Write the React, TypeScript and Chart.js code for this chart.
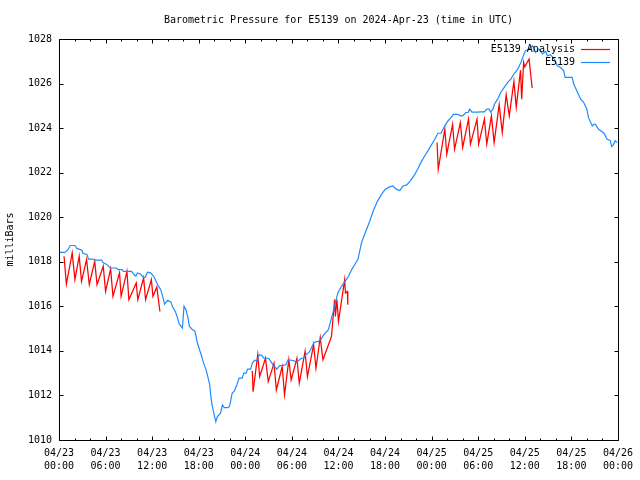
import { useEffect, useRef } from "react";
import { Chart, registerables } from "chart.js";

Chart.register(...registerables);

const TITLE = "Barometric Pressure for E5139 on 2024-Apr-23 (time in UTC)";
const Y_LABEL = "milliBars";
const SERIES_ANALYSIS = "E5139 Analysis";
const SERIES_OBS = "E5139";
const COLOR_ANALYSIS = "#ff0000";
const COLOR_OBS = "#1e8cff";
const FONT = "'DejaVu Sans Mono', 'Liberation Mono', monospace";

// hours since 2024-04-23 00:00 UTC
const X_MIN = 0;
const X_MAX = 72;
const X_STEP = 6;
const X_MINOR_STEP = 2;
const X_TICK_DATES = ["04/23", "04/23", "04/23", "04/23", "04/24", "04/24", "04/24", "04/24", "04/25", "04/25", "04/25", "04/25", "04/26"];
const X_TICK_TIMES = ["00:00", "06:00", "12:00", "18:00", "00:00", "06:00", "12:00", "18:00", "00:00", "06:00", "12:00", "18:00", "00:00"];
const Y_MIN = 1010;
const Y_MAX = 1028;
const Y_STEP = 2;

// Observed pressure (E5139)
const OBS_HOURS = [
  0, 0.75, 1.1, 1.45, 2.05, 2.3, 2.95, 3.1, 3.6, 3.8, 4.35, 4.6, 5.5, 5.7, 6.15, 6.6, 7.4, 7.6, 8.1, 8.3,
  9.35, 9.6, 9.9, 10.1, 10.5, 10.9, 11.1, 11.4, 11.8, 12.2, 12.4, 12.7, 13.1, 13.35, 13.6, 14.0, 14.4, 14.6, 15.0, 15.2,
  15.5, 15.9, 16.1, 16.35, 16.6, 16.8, 17.2, 17.5, 17.8, 18.1, 18.3, 18.5, 18.7, 18.95, 19.2, 19.4, 19.55, 19.7, 19.95, 20.2,
  20.4, 20.8, 21.05, 21.3, 21.7, 21.95, 22.1, 22.3, 22.6, 22.9, 23.2, 23.6, 23.8, 24.1, 24.3, 24.7, 24.9, 25.2, 25.5, 25.8,
  26.1, 26.4, 27.0, 27.3, 27.6, 27.9, 28.05, 28.4, 29.2, 29.5, 30.2, 30.5, 30.9, 31.2, 31.5, 31.8, 32.2, 32.4, 32.8, 33.1,
  33.4, 33.7, 34.1, 34.7, 35.1, 35.4, 35.6, 35.8, 36.0, 36.4, 36.85, 37.3, 37.7, 38.1, 38.5, 39.0, 39.5, 40.0, 40.5, 41.0,
  41.5, 42.0, 42.5, 43.0, 43.5, 43.9, 44.3, 44.8, 45.3, 45.8, 46.2, 46.6, 47.1, 47.5, 47.9, 48.4, 48.8, 49.2, 49.7, 50.1,
  50.5, 50.8, 51.4, 51.7, 52.0, 52.4, 52.7, 52.9, 53.2, 53.9, 54.3, 54.8, 55.1, 55.4, 55.6, 55.9, 56.1, 56.5, 56.9, 57.35,
  57.8, 58.2, 58.6, 59.1, 59.5, 59.9, 60.1, 60.55, 61.0, 61.4, 61.8, 62.3, 62.7, 62.9, 63.3, 63.8, 64.2, 64.6, 65.0, 65.2,
  66.1, 66.3, 66.7, 67.2, 67.6, 68.0, 68.2, 68.7, 68.9, 69.1, 69.5, 69.7, 70.2, 70.6, 71.0, 71.2, 71.4, 71.65, 71.9,
];
const OBS_MBAR = [
  1018.42, 1018.42, 1018.52, 1018.73, 1018.73, 1018.6, 1018.52, 1018.37, 1018.33, 1018.12, 1018.12, 1018.07, 1018.07, 1017.95, 1017.88, 1017.72, 1017.72, 1017.65, 1017.65, 1017.57,
  1017.57, 1017.45, 1017.35, 1017.5, 1017.45, 1017.28, 1017.3, 1017.53, 1017.5, 1017.35, 1017.2, 1016.98, 1016.75, 1016.45, 1016.1, 1016.27, 1016.2, 1016.0, 1015.75, 1015.55,
  1015.2, 1015.03, 1016.0, 1015.85, 1015.5, 1015.1, 1014.95, 1014.9, 1014.4, 1014.05, 1013.85, 1013.6, 1013.37, 1013.15, 1012.8, 1012.5, 1012.0, 1011.6, 1011.2, 1010.82,
  1011.05, 1011.2, 1011.57, 1011.45, 1011.45, 1011.5, 1011.72, 1012.1, 1012.2, 1012.47, 1012.78, 1012.78, 1013.0, 1013.0, 1013.18, 1013.18, 1013.45, 1013.57, 1013.57, 1013.83,
  1013.8, 1013.67, 1013.67, 1013.52, 1013.35, 1013.25, 1013.18, 1013.33, 1013.37, 1013.6, 1013.57, 1013.5, 1013.57, 1013.67, 1013.67, 1013.83, 1013.93, 1014.05, 1014.35, 1014.42,
  1014.42, 1014.5, 1014.72, 1014.95, 1015.48, 1015.85, 1016.15, 1016.45, 1016.67, 1016.9, 1017.12, 1017.35, 1017.65, 1017.88, 1018.1, 1018.9, 1019.35, 1019.8, 1020.3, 1020.7,
  1021.0, 1021.25, 1021.35, 1021.4, 1021.25, 1021.2, 1021.4, 1021.45, 1021.65, 1021.9, 1022.15, 1022.45, 1022.75, 1022.97, 1023.2, 1023.5, 1023.77, 1023.77, 1024.1, 1024.32,
  1024.47, 1024.62, 1024.62, 1024.55, 1024.55, 1024.7, 1024.7, 1024.85, 1024.72, 1024.72, 1024.73, 1024.73, 1024.85, 1024.85, 1024.72, 1024.85, 1025.08, 1025.3, 1025.6, 1025.83,
  1026.05, 1026.2, 1026.43, 1026.65, 1026.95, 1027.33, 1027.48, 1027.55, 1027.7, 1027.4, 1027.55, 1027.33, 1027.45, 1027.25, 1027.3, 1027.1, 1026.8, 1026.72, 1026.58, 1026.28,
  1026.28, 1025.98, 1025.68, 1025.3, 1025.15, 1024.85, 1024.47, 1024.1, 1024.17, 1024.17, 1023.95, 1023.9, 1023.77, 1023.5, 1023.45, 1023.17, 1023.25, 1023.43, 1023.35,
];

// Analysis (three runs; null separates them)
const ANALYSIS_HOURS = [
  0.65, 0.95, 1.7, 2.05, 2.6, 2.9, 3.55, 3.9, 4.6, 4.9, 5.7, 6.0, 6.65, 6.95, 7.8, 8.0, 8.75, 9.0, 9.95, 10.15,
  10.9, 11.15, 11.9, 12.1, 12.6, 13.0,
  13.0,
  24.9, 25.0, 25.6, 25.85, 26.6, 26.95, 27.7, 28.0, 28.75, 29.05, 29.6, 29.9, 30.65, 30.95, 31.7, 32.0, 32.8, 33.1, 33.65,
  34.0, 35.1, 35.5, 35.6, 35.8, 36.0, 36.8, 36.9, 37.15, 37.2,
  37.2,
  48.7, 48.85, 49.7, 49.95, 50.7, 50.95, 51.7, 52.0, 52.75, 53.0, 53.85, 54.05, 54.8, 55.1, 55.7, 56.05, 56.7, 57.1, 57.6, 58.0,
  58.6, 58.9, 59.45, 59.6, 59.85, 60.0, 60.55, 60.95,
];
const ANALYSIS_MBAR = [
  1018.25, 1017.0, 1018.4, 1017.2, 1018.25, 1017.12, 1018.1, 1016.98, 1018.02, 1016.98, 1017.8, 1016.67, 1017.68, 1016.45, 1017.5, 1016.45, 1017.57, 1016.3, 1017.05, 1016.3,
  1017.28, 1016.3, 1017.2, 1016.45, 1016.87, 1015.77,
  null,
  1013.1, 1012.17, 1013.83, 1012.85, 1013.67, 1012.62, 1013.45, 1012.25, 1013.3, 1012.03, 1013.6, 1012.7, 1013.67, 1012.55, 1013.98, 1012.85, 1014.28, 1013.22, 1014.6,
  1013.6, 1014.65, 1016.3, 1015.55, 1016.3, 1015.33, 1017.2, 1016.6, 1016.67, 1016.07,
  null,
  1023.35, 1022.15, 1023.95, 1022.83, 1024.17, 1023.05, 1024.25, 1023.13, 1024.4, 1023.28, 1024.4, 1023.28, 1024.4, 1023.28, 1024.55, 1023.35, 1025.05, 1023.8, 1025.5, 1024.55,
  1026.1, 1024.93, 1026.6, 1025.3, 1026.95, 1026.75, 1027.1, 1025.8,
];

const gnuplotDecor = {
  id: "gnuplotDecor",
  afterDatasetsDraw(chart: any) {
    const { ctx, chartArea: a, scales } = chart;
    const xs = scales.x;
    const ys = scales.y;
    const L = Math.round(a.left) + 0.5;
    const R = Math.round(a.right) + 0.5;
    const T = Math.round(a.top) + 0.5;
    const B = Math.round(a.bottom) + 0.5;
    ctx.save();
    ctx.strokeStyle = "#000";
    ctx.lineWidth = 1;
    ctx.beginPath();
    ctx.rect(L, T, R - L, B - T);
    // x ticks (bottom and top, inward)
    for (let h = X_MIN; h <= X_MAX + 1e-9; h += X_MINOR_STEP) {
      const px = Math.round(xs.getPixelForValue(h)) + 0.5;
      const len = Math.abs(h % X_STEP) < 1e-9 ? 4 : 2;
      ctx.moveTo(px, B);
      ctx.lineTo(px, B - len);
      ctx.moveTo(px, T);
      ctx.lineTo(px, T + len);
    }
    // y ticks (left and right, inward)
    for (let v = Y_MIN; v <= Y_MAX + 1e-9; v += Y_STEP) {
      const py = Math.round(ys.getPixelForValue(v)) + 0.5;
      ctx.moveTo(L, py);
      ctx.lineTo(L + 4, py);
      ctx.moveTo(R, py);
      ctx.lineTo(R - 4, py);
    }
    ctx.stroke();

    // legend (gnuplot style: text right-aligned, sample line on the right)
    ctx.font = `10px ${FONT}`;
    ctx.textAlign = "right";
    ctx.textBaseline = "middle";
    chart.data.datasets.forEach((ds: any, i: number) => {
      const yy = 49 + i * 13;
      ctx.fillStyle = "#000";
      ctx.fillText(ds.label, 575, yy);
      ctx.strokeStyle = ds.borderColor;
      ctx.lineWidth = 1.2;
      ctx.beginPath();
      ctx.moveTo(581, yy + 0.5);
      ctx.lineTo(610, yy + 0.5);
      ctx.stroke();
    });
    ctx.restore();
  },
};

export default function App() {
  const ref = useRef<HTMLCanvasElement | null>(null);

  useEffect(() => {
    if (!ref.current) return;
    const obs = OBS_HOURS.map((h, i) => ({ x: h, y: OBS_MBAR[i] }));
    const ana = ANALYSIS_HOURS.map((h, i) => ({ x: h, y: ANALYSIS_MBAR[i] }));
    const chart = new Chart(ref.current, {
      type: "line",
      data: {
        datasets: [
          {
            label: SERIES_ANALYSIS,
            data: ana as any,
            borderColor: COLOR_ANALYSIS,
            borderWidth: 1.25,
            pointRadius: 0,
            tension: 0,
            spanGaps: false,
            order: 1,
          },
          {
            label: SERIES_OBS,
            data: obs,
            borderColor: COLOR_OBS,
            borderWidth: 1.2,
            pointRadius: 0,
            tension: 0,
            order: 0,
          },
        ],
      },
      options: {
        animation: false,
        responsive: false,
        devicePixelRatio: 1,
        layout: { padding: { left: 0, right: 19, top: 0, bottom: 0 } },
        plugins: {
          legend: { display: false },
          tooltip: { enabled: false },
          title: {
            display: true,
            fullSize: false,
            text: TITLE,
            color: "#000",
            font: { family: FONT, size: 10, weight: "normal", lineHeight: 1.2 },
            padding: { top: 14, bottom: 13 },
          },
        },
        scales: {
          x: {
            type: "linear",
            min: X_MIN,
            max: X_MAX,
            grid: { display: false, drawTicks: false },
            border: { display: false },
            ticks: {
              stepSize: X_STEP,
              autoSkip: false,
              maxRotation: 0,
              minRotation: 0,
              padding: 7,
              color: "#000",
              font: { family: FONT, size: 10, lineHeight: 1.3 },
              callback: (v: any) => {
                const i = Math.round(Number(v) / X_STEP);
                return [X_TICK_DATES[i], X_TICK_TIMES[i]];
              },
            },
            afterFit: (s: any) => {
              s.height = 40;
            },
          },
          y: {
            min: Y_MIN,
            max: Y_MAX,
            grid: { display: false, drawTicks: false },
            border: { display: false },
            ticks: {
              stepSize: Y_STEP,
              padding: 7,
              color: "#000",
              font: { family: FONT, size: 10 },
              callback: (v: any) => String(v),
            },
            title: {
              display: true,
              text: Y_LABEL,
              color: "#000",
              font: { family: FONT, size: 10 },
              padding: { top: 4, bottom: 0 },
            },
            afterFit: (s: any) => {
              s.width = 59;
            },
          },
        },
      },
      plugins: [gnuplotDecor],
    });
    return () => chart.destroy();
  }, []);

  return (
    <div style={{ position: "absolute", left: 0, top: 0, width: 640, height: 480, background: "#fff" }}>
      <canvas ref={ref} width={640} height={480} style={{ display: "block" }} />
    </div>
  );
}
